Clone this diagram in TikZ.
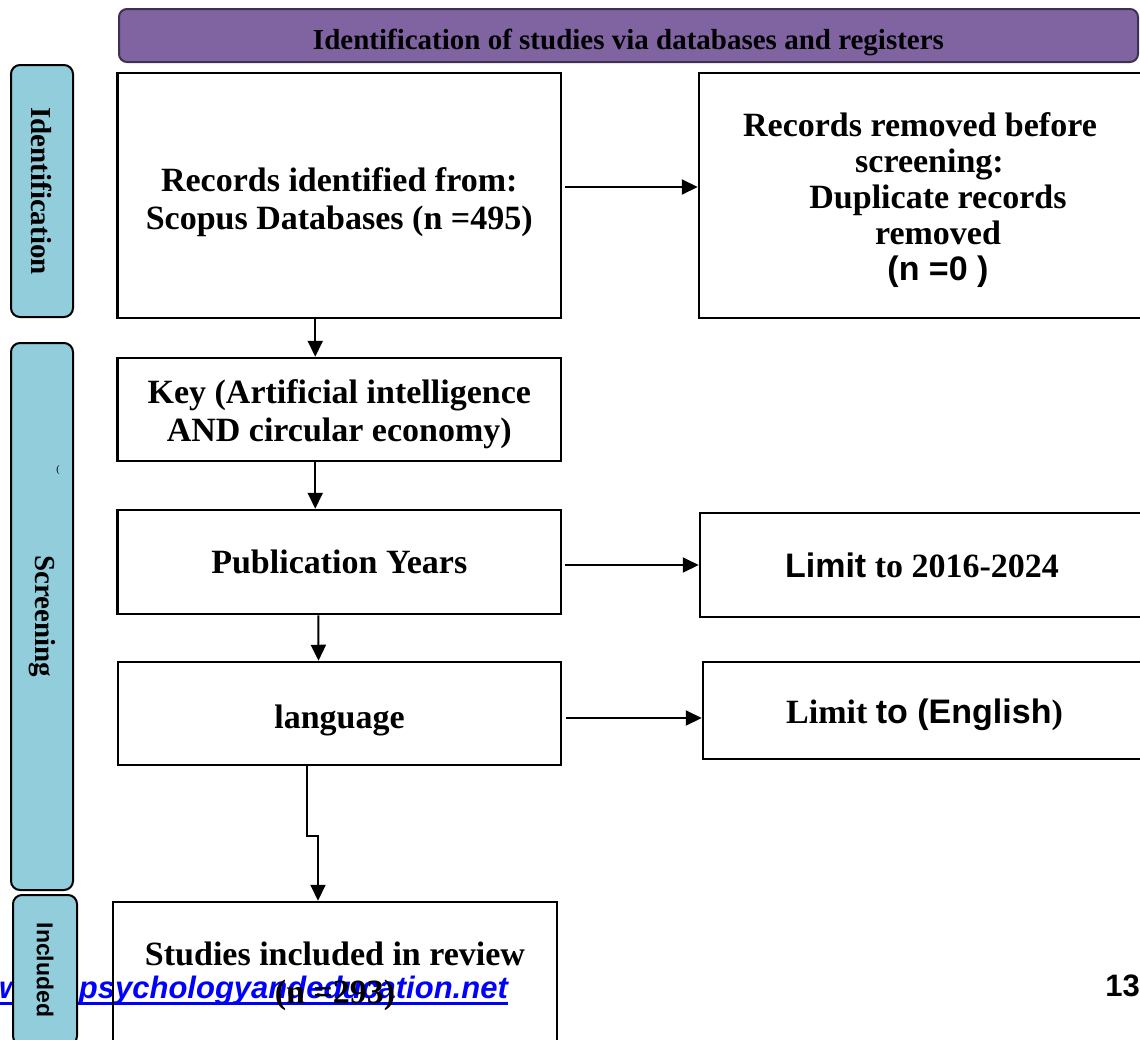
\documentclass[tikz,border=0pt]{standalone}
\usepackage{fontspec}
\setmainfont{Liberation Serif}
\newfontfamily\arialf{Liberation Sans}
\usetikzlibrary{arrows.meta}
\definecolor{hdrfill}{HTML}{8064A2}
\definecolor{hdrline}{HTML}{3F3151}
\definecolor{sidefill}{HTML}{92CDDC}
\definecolor{linkblue}{HTML}{0000FF}
\newcommand\myrise[1]{\rule{0pt}{#1}}
\tikzset{
  flowbox/.style={draw=black, line width=2.5pt, rectangle, inner sep=0pt, align=center,
    font=\fontsize{34}{38}\selectfont\bfseries},
  sidelabel/.style={draw=black, line width=2pt, fill=sidefill, rounded corners=9pt,
    rotate=-90, inner sep=0pt, font=\fontsize{29}{32}\selectfont\bfseries},
  arr/.style={line width=2pt, -{Triangle[length=16pt,width=15pt]}},
}
\begin{document}
\begin{tikzpicture}[x=1pt,y=-1pt]
\useasboundingbox (0,0) rectangle (1140,1039);
\fill[white] (0,0) rectangle (1140,1039);

% header
\node[draw=hdrline, line width=2pt, fill=hdrfill, rounded corners=8pt,
  minimum width=1019pt, minimum height=53pt, inner sep=0pt,
  font=\fontsize{29}{32}\selectfont\bfseries] (hdr) at (628.5,35.5)
  {\myrise{34pt}Identification of studies via databases and registers};

% side labels
\node[sidelabel, minimum width=252pt, minimum height=62pt] (sid) at (42,191) {Identification};
\node[sidelabel, minimum width=547pt, minimum height=62pt] (ssc) at (42,616.5) {Screening};
\node[inner sep=0pt, font=\fontsize{10}{10}\selectfont] (mark) at (58,470) {(};

% flow boxes
\node[flowbox, minimum width=443.5pt, minimum height=245pt] (rec) at (339.25,195.5)
  {\myrise{37.5pt}Records identified from:\\Scopus Databases (n =495)};
\node[flowbox, minimum width=461pt, minimum height=245pt,
  font=\fontsize{34}{36}\selectfont\bfseries] (rem) at (929.5,195.5)
  {\myrise{34pt}Records removed before\hspace*{19pt}\\screening:\hspace*{19pt}\\\hspace*{17pt}Duplicate records\\\hspace*{17pt}removed\\\hspace*{17pt}{\arialf (n =0 )}};
\node[flowbox, minimum width=443.5pt, minimum height=103pt] (key) at (339.25,409.5)
  {\myrise{34pt}Key (Artificial intelligence\\AND circular economy)};
\node[flowbox, minimum width=443.5pt, minimum height=104pt] (pub) at (339.25,562)
  {Publication Years};
\node[flowbox, minimum width=443pt, minimum height=103pt] (lang) at (339.5,713.5)
  {\myrise{37pt}language};
\node[flowbox, minimum width=460pt, minimum height=104pt] (lim1) at (930,565)
  {{\arialf Limit} to 2016-2024\hspace*{16pt}};
\node[flowbox, minimum width=457pt, minimum height=97pt] (lim2) at (931.5,710.5)
  {\myrise{34pt}Limit {\arialf to (English})\hspace*{14pt}};

% watermark
\node[anchor=base east, inner sep=0pt, text=linkblue,
  font=\arialf\bfseries\itshape\fontsize{31}{31}\selectfont] (wm) at (508,998)
  {www.psychologyandeducation.net};
\draw[linkblue, line width=3pt] ([yshift=-5pt]wm.base west) -- ([yshift=-5pt]wm.base east);

\node[flowbox, minimum width=444pt, minimum height=148pt] (stud) at (335,976)
  {Studies included in review\\(n =293)};

\node[sidelabel, minimum width=150pt, minimum height=64pt,
  font=\arialf\bfseries\fontsize{23}{26}\selectfont] (sinc) at (45,970) {Included};

\node[anchor=east, inner sep=0pt, font=\arialf\bfseries\fontsize{31}{31}\selectfont] (pg) at (1140,986) {13};

% connectors
\draw[arr] ([xshift=-24pt]rec.south) -- ([xshift=-24pt]key.north);
\draw[arr] ([xshift=-24pt]key.south) -- ([xshift=-24pt]pub.north);
\draw[arr] ([xshift=-21pt]pub.south) -- ([xshift=-21pt]lang.north);
\draw[arr] ([xshift=-32.5pt]lang.south) -- ++(0,70) -| ([xshift=-17pt]stud.north);
\draw[arr, shorten <=3pt] ([yshift=8.5pt]rec.east) -- ([yshift=8.5pt]rem.west);
\draw[arr, shorten <=3pt] (pub.east |- lim1.west) -- (lim1.west);
\draw[arr, shorten <=4pt] ([yshift=-4.5pt]lang.east) -- ([yshift=-7.5pt]lim2.west);
\end{tikzpicture}
\end{document}
